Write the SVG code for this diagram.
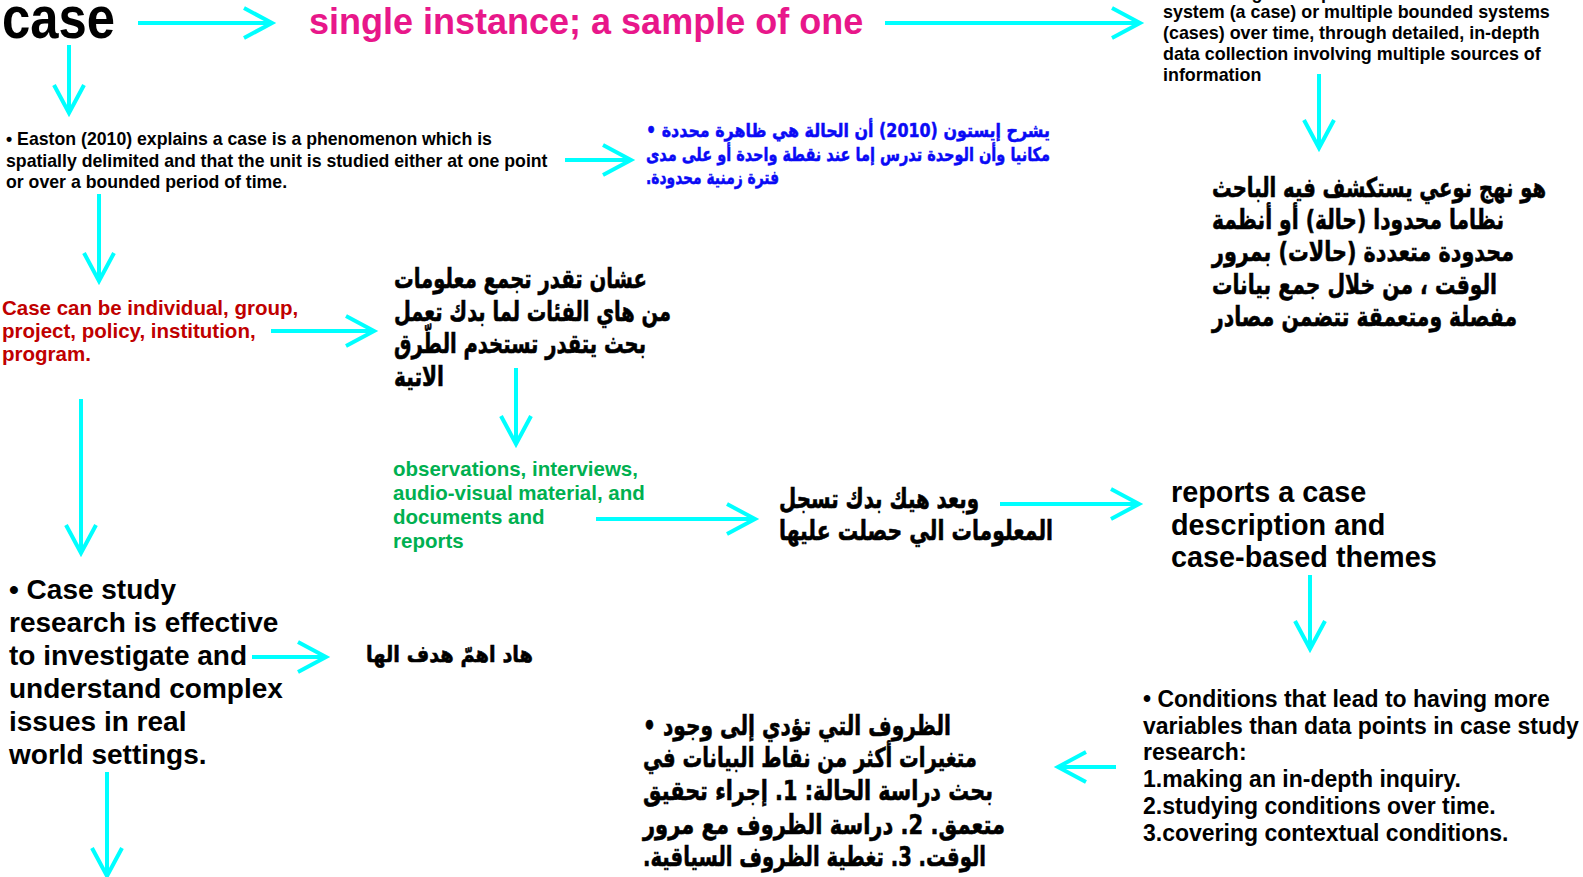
<svg xmlns="http://www.w3.org/2000/svg" width="1583" height="877" viewBox="0 0 1583 877">
<defs>
<marker id="ah" markerUnits="userSpaceOnUse" markerWidth="40" markerHeight="40" viewBox="-32 -20 36 40" refX="0" refY="0" orient="auto" overflow="visible">
<path d="M-28,-15 L0,0 L-28,15" fill="none" stroke="#00FFFF" stroke-width="4"/>
</marker>
<style>
.en{font-family:"Liberation Sans",Arial,sans-serif;font-weight:bold;fill:#000}
.ar{font-family:"DejaVu Sans","Noto Sans",sans-serif;font-weight:bold;fill:#000;stroke:#000;stroke-width:0.6;direction:rtl;text-anchor:middle}
.blue{fill:#0A0AF5;stroke:#0A0AF5;stroke-width:0.5}
.conn line{stroke:#00FFFF;stroke-width:4;marker-end:url(#ah)}
</style>
</defs>
<rect width="1583" height="877" fill="#fff"/>
<g id="n-case"><text x="2" y="38" font-family="Liberation Sans, Arial, sans-serif" font-weight="bold" font-size="60" textLength="113" lengthAdjust="spacingAndGlyphs" fill="#000">case</text></g>
<g id="n-single"><text class="en" x="309" y="34" font-size="36" style="fill:#E8178A">single instance; a sample of one</text></g>
<g id="n-definition" class="en" font-size="17.9">
<text x="1163" y="-1">the investigator explores a bounded</text>
<text x="1163" y="18">system (a case) or multiple bounded systems</text>
<text x="1163" y="39">(cases) over time, through detailed, in-depth</text>
<text x="1163" y="60">data collection involving multiple sources of</text>
<text x="1163" y="81">information</text>
</g>
<g id="n-easton" class="en" font-size="17.7">
<text x="6" y="145">• Easton (2010) explains a case is a phenomenon which is</text>
<text x="6" y="167">spatially delimited and that the unit is studied either at one point</text>
<text x="6" y="188">or over a bounded period of time.</text>
</g>
<g id="n-easton-ar" font-size="19">
<text class="ar blue" x="848" y="137" textLength="404" lengthAdjust="spacingAndGlyphs">يشرح إيستون (2010) أن الحالة هي ظاهرة محددة •</text>
<text class="ar blue" x="848" y="161" textLength="404" lengthAdjust="spacingAndGlyphs">مكانيا وأن الوحدة تدرس إما عند نقطة واحدة أو على مدى</text>
<text class="ar blue" x="712.5" y="184" textLength="133" lengthAdjust="spacingAndGlyphs">فترة زمنية محدودة.</text>
</g>
<g id="n-definition-ar" class="ar" font-size="27">
<text x="1379" y="197" textLength="334" lengthAdjust="spacingAndGlyphs">هو نهج نوعي يستكشف فيه الباحث</text>
<text x="1358" y="229" textLength="292" lengthAdjust="spacingAndGlyphs">نظاما محدودا (حالة) أو أنظمة</text>
<text x="1363" y="261" textLength="302" lengthAdjust="spacingAndGlyphs">محدودة متعددة (حالات) بمرور</text>
<text x="1354.5" y="294" textLength="285" lengthAdjust="spacingAndGlyphs">الوقت ، من خلال جمع بيانات</text>
<text x="1364.5" y="326" textLength="305" lengthAdjust="spacingAndGlyphs">مفصلة ومتعمقة تتضمن مصادر</text>
</g>
<g id="n-types" class="en" font-size="20.5">
<text x="2" y="315" style="fill:#C00000">Case can be individual, group,</text>
<text x="2" y="338" style="fill:#C00000">project, policy, institution,</text>
<text x="2" y="361" style="fill:#C00000">program.</text>
</g>
<g id="n-collect-ar" class="ar" font-size="27">
<text x="520.5" y="288" textLength="253" lengthAdjust="spacingAndGlyphs">عشان تقدر تجمع معلومات</text>
<text x="532.5" y="321" textLength="277" lengthAdjust="spacingAndGlyphs">من هاي الفئات لما بدك تعمل</text>
<text x="520" y="353" textLength="252" lengthAdjust="spacingAndGlyphs">بحث يتقدر تستخدم الطّرق</text>
<text x="419" y="386" textLength="50" lengthAdjust="spacingAndGlyphs">الاتية</text>
</g>
<g id="n-methods" class="en" font-size="20.5">
<text x="393" y="476" style="fill:#00B050">observations, interviews,</text>
<text x="393" y="500" style="fill:#00B050">audio-visual material, and</text>
<text x="393" y="524" style="fill:#00B050">documents and</text>
<text x="393" y="548" style="fill:#00B050">reports</text>
</g>
<g id="n-record-ar" class="ar" font-size="27">
<text x="879" y="508" textLength="200" lengthAdjust="spacingAndGlyphs">وبعد هيك بدك تسجل</text>
<text x="916" y="540" textLength="274" lengthAdjust="spacingAndGlyphs">المعلومات الي حصلت عليها</text>
</g>
<g id="n-reports" class="en" font-size="28.8">
<text x="1171" y="502">reports a case</text>
<text x="1171" y="535">description and</text>
<text x="1171" y="567">case-based themes</text>
</g>
<g id="n-effective" class="en" font-size="28">
<text x="9" y="599">• Case study</text>
<text x="9" y="632">research is effective</text>
<text x="9" y="665">to investigate and</text>
<text x="9" y="698">understand complex</text>
<text x="9" y="731">issues in real</text>
<text x="9" y="764">world settings.</text>
</g>
<g id="n-goal-ar" class="ar" font-size="22">
<text x="449.5" y="662" textLength="167" lengthAdjust="spacingAndGlyphs">هاد اهمّ هدف الها</text>
</g>
<g id="n-conditions" class="en" font-size="23">
<text x="1143" y="707">• Conditions that lead to having more</text>
<text x="1143" y="734">variables than data points in case study</text>
<text x="1143" y="760">research:</text>
<text x="1143" y="787">1.making an in-depth inquiry.</text>
<text x="1143" y="814">2.studying conditions over time.</text>
<text x="1143" y="841">3.covering contextual conditions.</text>
</g>
<g id="n-conditions-ar" class="ar" font-size="27">
<text x="797" y="735" textLength="308" lengthAdjust="spacingAndGlyphs">الظروف التي تؤدي إلى وجود •</text>
<text x="810" y="767" textLength="334" lengthAdjust="spacingAndGlyphs">متغيرات أكثر من نقاط البيانات في</text>
<text x="818" y="800" textLength="350" lengthAdjust="spacingAndGlyphs">بحث دراسة الحالة: 1. إجراء تحقيق</text>
<text x="824" y="834" textLength="362" lengthAdjust="spacingAndGlyphs">متعمق. 2. دراسة الظروف مع مرور</text>
<text x="814.5" y="866" textLength="343" lengthAdjust="spacingAndGlyphs">الوقت. 3. تغطية الظروف السياقية.</text>
</g>
<g id="connectors" class="conn">
<line x1="138" y1="23" x2="272" y2="23"/>
<line x1="885" y1="23" x2="1140" y2="23"/>
<line x1="69" y1="45" x2="69" y2="113"/>
<line x1="1319" y1="74" x2="1319" y2="148"/>
<line x1="565" y1="160" x2="631" y2="160"/>
<line x1="99" y1="194" x2="99" y2="281"/>
<line x1="271" y1="331" x2="374" y2="331"/>
<line x1="516" y1="368" x2="516" y2="444"/>
<line x1="81" y1="399" x2="81" y2="553"/>
<line x1="596" y1="519" x2="755" y2="519"/>
<line x1="1000" y1="504" x2="1139" y2="504"/>
<line x1="1310" y1="575" x2="1310" y2="649"/>
<line x1="252" y1="657" x2="326" y2="657"/>
<line x1="1116" y1="767" x2="1058" y2="767"/>
<line x1="107" y1="772" x2="107" y2="876"/>
</g>
</svg>
